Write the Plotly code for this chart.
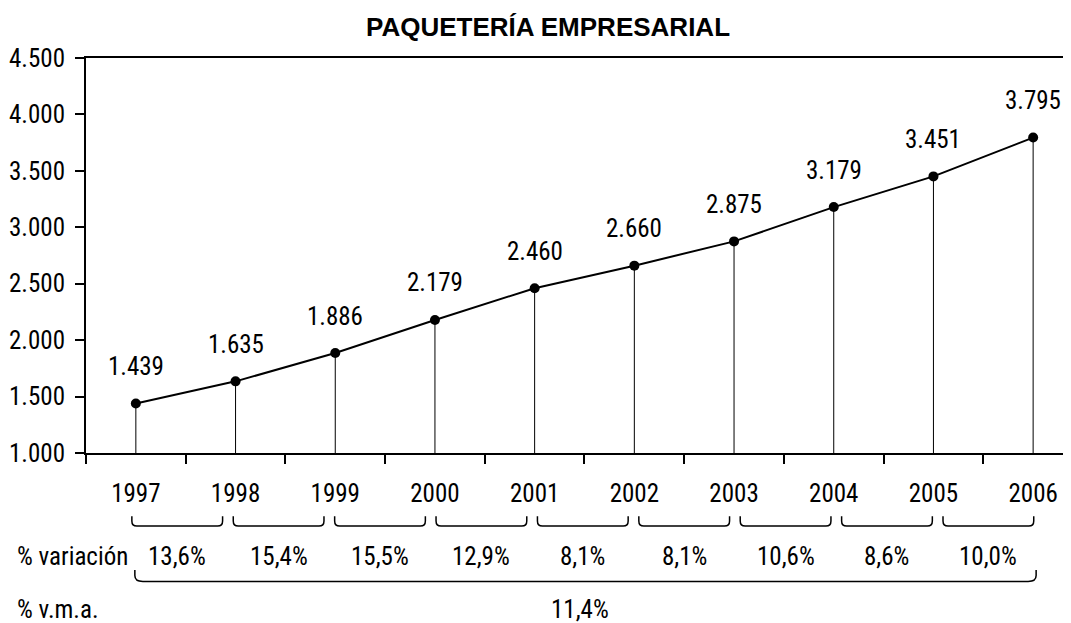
import plotly.graph_objects as go

# datos
years = ["1997", "1998", "1999", "2000", "2001", "2002", "2003", "2004", "2005", "2006"]
values = [1439, 1635, 1886, 2179, 2460, 2660, 2875, 3179, 3451, 3795]
variacion = [13.6, 15.4, 15.5, 12.9, 8.1, 8.1, 10.6, 8.6, 10.0]
vma = 11.4
y_ticks = [1000, 1500, 2000, 2500, 3000, 3500, 4000, 4500]
y_tick_labels = ["1.000", "1.500", "2.000", "2.500", "3.000", "3.500", "4.000", "4.500"]

FONT = "Roboto Condensed, Archivo Narrow, Liberation Sans, Arial, sans-serif"
TITLE_FONT = "Liberation Sans, Arial, sans-serif"
FS = 25


def miles(v):
    return f"{v:,}".replace(",", ".")


def pct(v):
    return f"{v:.1f}%".replace(".", ",")


def brace(x0, x1, ytop, ybot, r, ry):
    # llave: extremos hacia arriba, esquinas redondeadas
    return (f"M {x0},{ytop} L {x0},{ybot + ry} Q {x0},{ybot} {x0 + r},{ybot} "
            f"L {x1 - r},{ybot} Q {x1},{ybot} {x1},{ybot + ry} L {x1},{ytop}")


fig = go.Figure()

fig.add_trace(go.Scatter(
    x=years, y=values,
    mode="lines+markers",
    line=dict(color="black", width=2),
    marker=dict(color="black", size=10),
    error_y=dict(type="data", symmetric=False,
                 array=[0] * len(values),
                 arrayminus=[v - y_ticks[0] for v in values],
                 width=0, thickness=1, color="black"),
    hoverinfo="skip",
    showlegend=False,
))

# etiquetas de valor
for i, v in enumerate(values):
    fig.add_annotation(x=i, y=v, text=miles(v), showarrow=False,
                       yshift=37, font=dict(family=FONT, size=FS, color="black"))

# llaves de variación anual (espaciado algo mayor que el de las categorías)
step, x0, w = 1.017, -0.04, 0.91
for k, v in enumerate(variacion):
    a = x0 + k * step
    fig.add_shape(type="path", xref="x", yref="paper",
                  path=brace(a, a + w, -0.160, -0.185, 0.05, 0.013),
                  line=dict(color="black", width=1.5))
    fig.add_annotation(x=a + w / 2, xref="x", y=-0.261, yref="paper", yanchor="middle",
                       text=pct(v), showarrow=False,
                       font=dict(family=FONT, size=FS, color="black"))

# llave grande v.m.a.
fig.add_shape(type="path", xref="x", yref="paper",
              path=brace(-0.01, len(years) - 1 + 0.03, -0.296, -0.325, 0.08, 0.015),
              line=dict(color="black", width=1.5))

fig.add_annotation(x=-0.072, xref="paper", xanchor="left", y=-0.261, yref="paper",
                   yanchor="middle", text="% variación", showarrow=False,
                   font=dict(family=FONT, size=FS, color="black"))
fig.add_annotation(x=-0.072, xref="paper", xanchor="left", y=-0.395, yref="paper",
                   yanchor="middle", text="% v.m.a.", showarrow=False,
                   font=dict(family=FONT, size=FS, color="black"))
fig.add_annotation(x=4.45, xref="x", y=-0.395, yref="paper", yanchor="middle",
                   text=pct(vma), showarrow=False,
                   font=dict(family=FONT, size=FS, color="black"))

fig.update_layout(
    width=1071, height=623,
    margin=dict(l=78, r=0, t=50, b=178),
    paper_bgcolor="white", plot_bgcolor="white",
    title=dict(text="<b>PAQUETERÍA EMPRESARIAL</b>", x=540 / 1071, xanchor="center",
               xref="container", y=1 - 19 / 623, yanchor="middle", yref="container",
               font=dict(family=TITLE_FONT, size=26, color="black")),
    xaxis=dict(type="category", range=[-0.5, 9.46], tickson="boundaries",
               ticks="outside", ticklen=9, tickwidth=2, tickcolor="black",
               showline=True, linewidth=2, linecolor="black", mirror=True,
               showgrid=False, ticklabelstandoff=17,
               tickfont=dict(family=FONT, size=FS, color="black")),
    yaxis=dict(range=[1000, 4500], tickvals=y_ticks, ticktext=y_tick_labels,
               ticks="outside", ticklen=9, tickwidth=2, tickcolor="black",
               showline=True, linewidth=2, linecolor="black",
               showgrid=False, zeroline=False, ticklabelstandoff=5,
               tickfont=dict(family=FONT, size=FS, color="black")),
)

fig.write_html("out.html")
